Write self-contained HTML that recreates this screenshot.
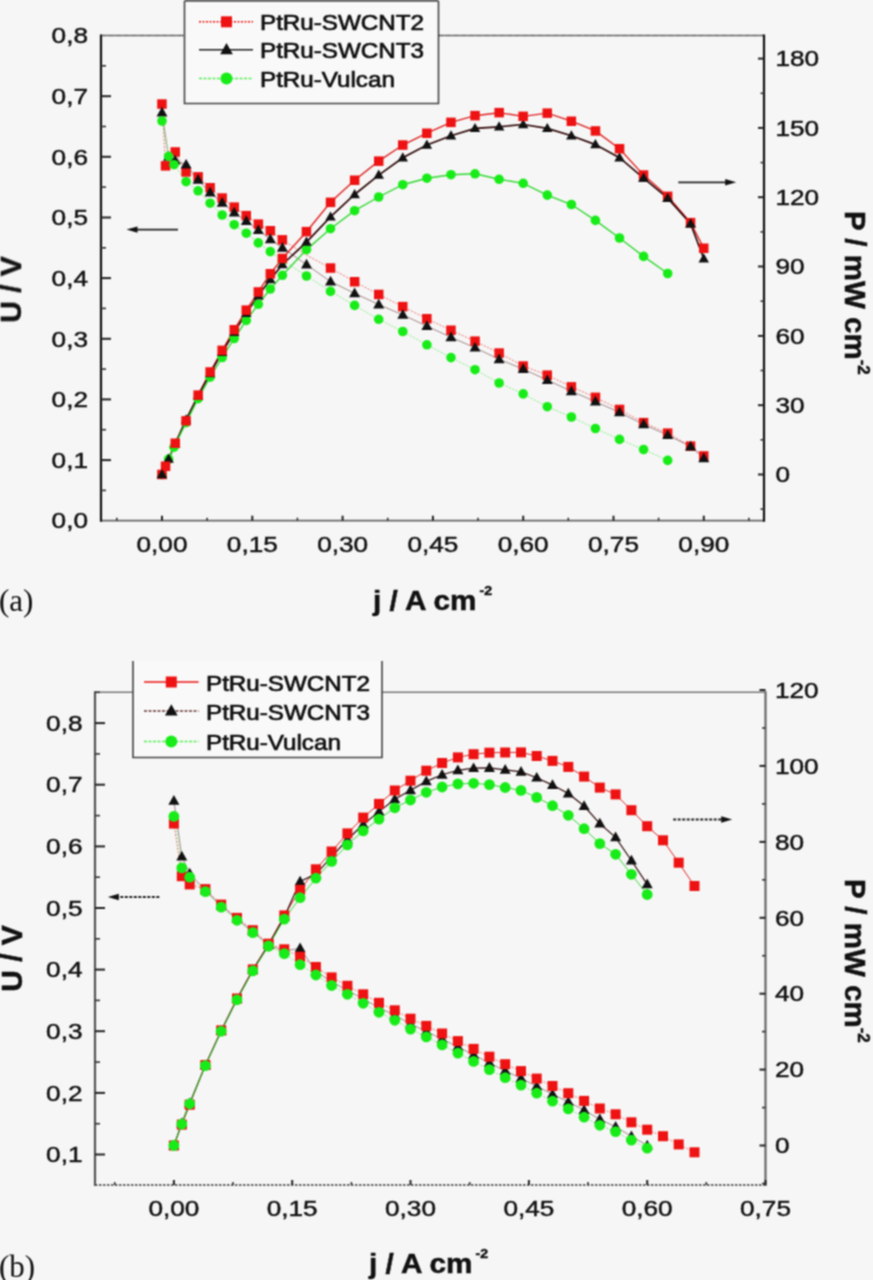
<!DOCTYPE html><html><head><meta charset="utf-8"><title>PtRu fuel cell polarization</title><style>
html,body{margin:0;padding:0;background:#f6f6f6;}body{width:873px;height:1280px;overflow:hidden;position:relative;}
svg{position:absolute;left:0;top:0;display:block;}text{font-family:"Liberation Sans",sans-serif;fill:#111;}
.serif{font-family:"Liberation Serif",serif;}.b{font-weight:bold;stroke:#111;stroke-width:0.5px;}.tl{stroke:#111;stroke-width:0.45px;}.lg{stroke:#111;stroke-width:0.7px;}
</style></head><body>
<svg width="873" height="1280" viewBox="0 0 873 1280">
<defs><filter id="soft" x="0" y="0" width="873" height="1280" filterUnits="userSpaceOnUse" color-interpolation-filters="sRGB"><feConvolveMatrix order="3" kernelMatrix="1 2 1 2 4 2 1 2 1" divisor="16" edgeMode="duplicate"/></filter></defs>
<g filter="url(#soft)">
<rect width="873" height="1280" fill="#f6f6f6"/>
<line x1="101" y1="35.5" x2="764" y2="35.5" stroke="#222" stroke-width="1.6" stroke-dasharray="1.6,0.7"/>
<line x1="101" y1="520.7" x2="764" y2="520.7" stroke="#666" stroke-width="1.8"/>
<line x1="101" y1="34.5" x2="101" y2="521.7" stroke="#111" stroke-width="2.2"/>
<line x1="764" y1="34.5" x2="764" y2="521.7" stroke="#111" stroke-width="2.2"/>
<line x1="101" y1="460.1" x2="111" y2="460.1" stroke="#222" stroke-width="2"/>
<line x1="101" y1="399.4" x2="111" y2="399.4" stroke="#222" stroke-width="2"/>
<line x1="101" y1="338.8" x2="111" y2="338.8" stroke="#222" stroke-width="2"/>
<line x1="101" y1="278.1" x2="111" y2="278.1" stroke="#222" stroke-width="2"/>
<line x1="101" y1="217.5" x2="111" y2="217.5" stroke="#222" stroke-width="2"/>
<line x1="101" y1="156.8" x2="111" y2="156.8" stroke="#222" stroke-width="2"/>
<line x1="101" y1="96.2" x2="111" y2="96.2" stroke="#222" stroke-width="2"/>
<line x1="101" y1="490.4" x2="106" y2="490.4" stroke="#333" stroke-width="1.6"/>
<line x1="101" y1="429.7" x2="106" y2="429.7" stroke="#333" stroke-width="1.6"/>
<line x1="101" y1="369.1" x2="106" y2="369.1" stroke="#333" stroke-width="1.6"/>
<line x1="101" y1="308.4" x2="106" y2="308.4" stroke="#333" stroke-width="1.6"/>
<line x1="101" y1="247.8" x2="106" y2="247.8" stroke="#333" stroke-width="1.6"/>
<line x1="101" y1="187.1" x2="106" y2="187.1" stroke="#333" stroke-width="1.6"/>
<line x1="101" y1="126.5" x2="106" y2="126.5" stroke="#333" stroke-width="1.6"/>
<line x1="101" y1="65.8" x2="106" y2="65.8" stroke="#333" stroke-width="1.6"/>
<line x1="758" y1="474.5" x2="764" y2="474.5" stroke="#222" stroke-width="2"/>
<line x1="758" y1="405.2" x2="764" y2="405.2" stroke="#222" stroke-width="2"/>
<line x1="758" y1="335.9" x2="764" y2="335.9" stroke="#222" stroke-width="2"/>
<line x1="758" y1="266.5" x2="764" y2="266.5" stroke="#222" stroke-width="2"/>
<line x1="758" y1="197.2" x2="764" y2="197.2" stroke="#222" stroke-width="2"/>
<line x1="758" y1="127.9" x2="764" y2="127.9" stroke="#222" stroke-width="2"/>
<line x1="758" y1="58.6" x2="764" y2="58.6" stroke="#222" stroke-width="2"/>
<line x1="760.5" y1="509.1" x2="764" y2="509.1" stroke="#333" stroke-width="1.6"/>
<line x1="760.5" y1="439.8" x2="764" y2="439.8" stroke="#333" stroke-width="1.6"/>
<line x1="760.5" y1="370.5" x2="764" y2="370.5" stroke="#333" stroke-width="1.6"/>
<line x1="760.5" y1="301.2" x2="764" y2="301.2" stroke="#333" stroke-width="1.6"/>
<line x1="760.5" y1="231.9" x2="764" y2="231.9" stroke="#333" stroke-width="1.6"/>
<line x1="760.5" y1="162.6" x2="764" y2="162.6" stroke="#333" stroke-width="1.6"/>
<line x1="760.5" y1="93.3" x2="764" y2="93.3" stroke="#333" stroke-width="1.6"/>
<line x1="162" y1="520.7" x2="162" y2="515.7" stroke="#222" stroke-width="2"/>
<line x1="252.3" y1="520.7" x2="252.3" y2="515.7" stroke="#222" stroke-width="2"/>
<line x1="342.6" y1="520.7" x2="342.6" y2="515.7" stroke="#222" stroke-width="2"/>
<line x1="432.9" y1="520.7" x2="432.9" y2="515.7" stroke="#222" stroke-width="2"/>
<line x1="523.2" y1="520.7" x2="523.2" y2="515.7" stroke="#222" stroke-width="2"/>
<line x1="613.5" y1="520.7" x2="613.5" y2="515.7" stroke="#222" stroke-width="2"/>
<line x1="703.8" y1="520.7" x2="703.8" y2="515.7" stroke="#222" stroke-width="2"/>
<line x1="116.8" y1="520.7" x2="116.8" y2="517.7" stroke="#333" stroke-width="1.6"/>
<line x1="207.1" y1="520.7" x2="207.1" y2="517.7" stroke="#333" stroke-width="1.6"/>
<line x1="297.4" y1="520.7" x2="297.4" y2="517.7" stroke="#333" stroke-width="1.6"/>
<line x1="387.7" y1="520.7" x2="387.7" y2="517.7" stroke="#333" stroke-width="1.6"/>
<line x1="478" y1="520.7" x2="478" y2="517.7" stroke="#333" stroke-width="1.6"/>
<line x1="568.3" y1="520.7" x2="568.3" y2="517.7" stroke="#333" stroke-width="1.6"/>
<line x1="658.6" y1="520.7" x2="658.6" y2="517.7" stroke="#333" stroke-width="1.6"/>
<line x1="748.9" y1="520.7" x2="748.9" y2="517.7" stroke="#333" stroke-width="1.6"/>
<polyline points="162,104 165.6,165.9 175.2,151.9 186.1,172 198.1,176.8 210.1,187.7 222.2,198 234.2,207.1 246.3,215.6 258.3,224.1 270.3,230.8 282.4,239.9 306.5,255.1 330.5,268.1 354.6,281.7 378.7,294.5 402.8,306.6 426.9,318.7 451,330.3 475,341.2 499.1,353 523.2,366 547.3,375.1 571.4,386.8 595.4,397.4 619.5,409.4 643.6,422.6 667.7,433.2 690.6,446.1 703.8,456" fill="none" stroke="#f07070" stroke-width="1.0" stroke-dasharray="2,1.5"/>
<polyline points="162,112.5 168.6,156.8 175.2,160.4 186.1,164.7 198.1,179.8 210.1,192.6 222.2,202.9 234.2,212.6 246.3,221.1 258.3,230.2 270.3,239.3 282.4,247.8 306.5,264.6 330.5,281.6 354.6,293.3 378.7,304.5 402.8,314.9 426.9,326.1 451,337.3 475,347.7 499.1,359.3 523.2,369.1 547.3,380.1 571.4,391.2 595.4,401.6 619.5,412.4 643.6,424.4 667.7,435.2 690.6,446.5 703.8,458.4" fill="none" stroke="#8a6a6a" stroke-width="0.8"/>
<polyline points="162,121 168.6,156.4 174,164.7 186.1,181.7 198.1,190.8 210.1,203.2 222.2,215 234.2,224.7 246.3,233.2 258.3,242.9 270.3,251.6 282.4,260.5 306.5,276 330.5,291.4 354.6,305.4 378.7,319.3 402.8,331.5 426.9,344.8 451,357.6 475,369.7 499.1,383 523.2,393.9 547.3,406.7 571.4,417 595.4,428.5 619.5,439.4 643.6,449.5 667.7,460.4" fill="none" stroke="#80f080" stroke-width="1.0" stroke-dasharray="2,1.5"/>
<polyline points="162,474.5 165.6,466.3 175.2,443.3 186.1,420.8 198.1,395.1 210.1,372 222.2,350.3 234.2,329.7 246.3,310.2 258.3,291.9 270.3,273.7 282.4,258.4 306.5,231.7 330.5,202.3 354.6,180.3 378.7,161.1 402.8,145 426.9,133.2 451,122.4 475,115.7 499.1,112.7 523.2,116.4 547.3,113.1 571.4,121.2 595.4,130.9 619.5,148.7 643.6,175.1 667.7,196.3 690.6,222.6 703.8,248.3" fill="none" stroke="#e02020" stroke-width="1.4"/>
<polyline points="162,474.5 168.6,459.1 175.2,444 186.1,419.7 198.1,395.8 210.1,373.5 222.2,352.2 234.2,332.2 246.3,313.1 258.3,295.6 270.3,279.6 282.4,264.5 306.5,242.1 330.5,216.9 354.6,194.5 378.7,175.1 402.8,157.7 426.9,145 451,135.8 475,128.4 499.1,126.8 523.2,124.5 547.3,128.4 571.4,135.8 595.4,144.6 619.5,157.7 643.6,178.1 667.7,198.2 690.6,223.8 703.8,258.7" fill="none" stroke="#300808" stroke-width="1.7"/>
<polyline points="162,474.5 168.6,459.1 174,447.2 186.1,422.6 198.1,398.7 210.1,377.2 222.2,357.5 234.2,338.5 246.3,320.4 258.3,304.3 270.3,289 282.4,275.3 306.5,249.6 330.5,228.7 354.6,210.7 378.7,197 402.8,184.7 426.9,178.2 451,174.7 475,173.8 499.1,179.3 523.2,183.3 547.3,195.1 571.4,204.5 595.4,220.4 619.5,238 643.6,256.4 667.7,273.5" fill="none" stroke="#30d830" stroke-width="1.4"/>
<rect x="157.2" y="99.3" width="9.5" height="9.5" fill="#ee1212"/>
<rect x="160.8" y="161.1" width="9.5" height="9.5" fill="#ee1212"/>
<rect x="170.5" y="147.2" width="9.5" height="9.5" fill="#ee1212"/>
<rect x="181.3" y="167.2" width="9.5" height="9.5" fill="#ee1212"/>
<rect x="193.4" y="172.1" width="9.5" height="9.5" fill="#ee1212"/>
<rect x="205.4" y="183" width="9.5" height="9.5" fill="#ee1212"/>
<rect x="217.4" y="193.3" width="9.5" height="9.5" fill="#ee1212"/>
<rect x="229.5" y="202.4" width="9.5" height="9.5" fill="#ee1212"/>
<rect x="241.5" y="210.9" width="9.5" height="9.5" fill="#ee1212"/>
<rect x="253.6" y="219.4" width="9.5" height="9.5" fill="#ee1212"/>
<rect x="265.6" y="226" width="9.5" height="9.5" fill="#ee1212"/>
<rect x="277.6" y="235.1" width="9.5" height="9.5" fill="#ee1212"/>
<rect x="325.8" y="263.3" width="9.5" height="9.5" fill="#ee1212"/>
<rect x="349.9" y="277" width="9.5" height="9.5" fill="#ee1212"/>
<rect x="374" y="289.7" width="9.5" height="9.5" fill="#ee1212"/>
<rect x="398" y="301.9" width="9.5" height="9.5" fill="#ee1212"/>
<rect x="422.1" y="314" width="9.5" height="9.5" fill="#ee1212"/>
<rect x="446.2" y="325.5" width="9.5" height="9.5" fill="#ee1212"/>
<rect x="470.3" y="336.4" width="9.5" height="9.5" fill="#ee1212"/>
<rect x="494.4" y="348.3" width="9.5" height="9.5" fill="#ee1212"/>
<rect x="518.4" y="361.3" width="9.5" height="9.5" fill="#ee1212"/>
<rect x="542.5" y="370.4" width="9.5" height="9.5" fill="#ee1212"/>
<rect x="566.6" y="382.1" width="9.5" height="9.5" fill="#ee1212"/>
<rect x="590.7" y="392.6" width="9.5" height="9.5" fill="#ee1212"/>
<rect x="614.8" y="404.7" width="9.5" height="9.5" fill="#ee1212"/>
<rect x="638.8" y="417.9" width="9.5" height="9.5" fill="#ee1212"/>
<rect x="662.9" y="428.4" width="9.5" height="9.5" fill="#ee1212"/>
<rect x="685.8" y="441.4" width="9.5" height="9.5" fill="#ee1212"/>
<rect x="699" y="451.2" width="9.5" height="9.5" fill="#ee1212"/>
<path d="M162 106.8L167.5 116.5L156.5 116.5Z" fill="#111111"/>
<path d="M168.6 151L174.1 160.7L163.1 160.7Z" fill="#111111"/>
<path d="M175.2 154.7L180.7 164.4L169.7 164.4Z" fill="#111111"/>
<path d="M186.1 158.9L191.6 168.6L180.6 168.6Z" fill="#111111"/>
<path d="M198.1 174.1L203.6 183.8L192.6 183.8Z" fill="#111111"/>
<path d="M210.1 186.8L215.7 196.5L204.6 196.5Z" fill="#111111"/>
<path d="M222.2 197.1L227.7 206.8L216.7 206.8Z" fill="#111111"/>
<path d="M234.2 206.8L239.7 216.5L228.7 216.5Z" fill="#111111"/>
<path d="M246.3 215.3L251.8 225L240.8 225Z" fill="#111111"/>
<path d="M258.3 224.4L263.8 234.1L252.8 234.1Z" fill="#111111"/>
<path d="M270.3 233.5L275.9 243.2L264.8 243.2Z" fill="#111111"/>
<path d="M282.4 242L287.9 251.7L276.9 251.7Z" fill="#111111"/>
<path d="M306.5 258.8L312 268.5L301 268.5Z" fill="#111111"/>
<path d="M330.5 275.8L336.1 285.5L325 285.5Z" fill="#111111"/>
<path d="M354.6 287.5L360.1 297.2L349.1 297.2Z" fill="#111111"/>
<path d="M378.7 298.7L384.2 308.5L373.2 308.5Z" fill="#111111"/>
<path d="M402.8 309.1L408.3 318.8L397.3 318.8Z" fill="#111111"/>
<path d="M426.9 320.3L432.4 330L421.4 330Z" fill="#111111"/>
<path d="M451 331.5L456.5 341.2L445.4 341.2Z" fill="#111111"/>
<path d="M475 341.9L480.5 351.6L469.5 351.6Z" fill="#111111"/>
<path d="M499.1 353.5L504.6 363.3L493.6 363.3Z" fill="#111111"/>
<path d="M523.2 363.3L528.7 373L517.7 373Z" fill="#111111"/>
<path d="M547.3 374.4L552.8 384.1L541.8 384.1Z" fill="#111111"/>
<path d="M571.4 385.5L576.9 395.2L565.8 395.2Z" fill="#111111"/>
<path d="M595.4 395.8L600.9 405.5L589.9 405.5Z" fill="#111111"/>
<path d="M619.5 406.6L625 416.3L614 416.3Z" fill="#111111"/>
<path d="M643.6 418.6L649.1 428.3L638.1 428.3Z" fill="#111111"/>
<path d="M667.7 429.4L673.2 439.1L662.2 439.1Z" fill="#111111"/>
<path d="M690.6 440.7L696.1 450.4L685 450.4Z" fill="#111111"/>
<path d="M703.8 452.6L709.3 462.3L698.3 462.3Z" fill="#111111"/>
<circle cx="162" cy="121" r="4.8" fill="#18ec18"/>
<circle cx="168.6" cy="156.4" r="4.8" fill="#18ec18"/>
<circle cx="174" cy="164.7" r="4.8" fill="#18ec18"/>
<circle cx="186.1" cy="181.7" r="4.8" fill="#18ec18"/>
<circle cx="198.1" cy="190.8" r="4.8" fill="#18ec18"/>
<circle cx="210.1" cy="203.2" r="4.8" fill="#18ec18"/>
<circle cx="222.2" cy="215" r="4.8" fill="#18ec18"/>
<circle cx="234.2" cy="224.7" r="4.8" fill="#18ec18"/>
<circle cx="246.3" cy="233.2" r="4.8" fill="#18ec18"/>
<circle cx="258.3" cy="242.9" r="4.8" fill="#18ec18"/>
<circle cx="270.3" cy="251.6" r="4.8" fill="#18ec18"/>
<circle cx="282.4" cy="260.5" r="4.8" fill="#18ec18"/>
<circle cx="306.5" cy="276" r="4.8" fill="#18ec18"/>
<circle cx="330.5" cy="291.4" r="4.8" fill="#18ec18"/>
<circle cx="354.6" cy="305.4" r="4.8" fill="#18ec18"/>
<circle cx="378.7" cy="319.3" r="4.8" fill="#18ec18"/>
<circle cx="402.8" cy="331.5" r="4.8" fill="#18ec18"/>
<circle cx="426.9" cy="344.8" r="4.8" fill="#18ec18"/>
<circle cx="451" cy="357.6" r="4.8" fill="#18ec18"/>
<circle cx="475" cy="369.7" r="4.8" fill="#18ec18"/>
<circle cx="499.1" cy="383" r="4.8" fill="#18ec18"/>
<circle cx="523.2" cy="393.9" r="4.8" fill="#18ec18"/>
<circle cx="547.3" cy="406.7" r="4.8" fill="#18ec18"/>
<circle cx="571.4" cy="417" r="4.8" fill="#18ec18"/>
<circle cx="595.4" cy="428.5" r="4.8" fill="#18ec18"/>
<circle cx="619.5" cy="439.4" r="4.8" fill="#18ec18"/>
<circle cx="643.6" cy="449.5" r="4.8" fill="#18ec18"/>
<circle cx="667.7" cy="460.4" r="4.8" fill="#18ec18"/>
<circle cx="162" cy="474.5" r="4.8" fill="#18ec18"/>
<circle cx="168.6" cy="459.1" r="4.8" fill="#18ec18"/>
<circle cx="174" cy="447.2" r="4.8" fill="#18ec18"/>
<circle cx="186.1" cy="422.6" r="4.8" fill="#18ec18"/>
<circle cx="198.1" cy="398.7" r="4.8" fill="#18ec18"/>
<circle cx="210.1" cy="377.2" r="4.8" fill="#18ec18"/>
<circle cx="222.2" cy="357.5" r="4.8" fill="#18ec18"/>
<circle cx="234.2" cy="338.5" r="4.8" fill="#18ec18"/>
<circle cx="246.3" cy="320.4" r="4.8" fill="#18ec18"/>
<circle cx="258.3" cy="304.3" r="4.8" fill="#18ec18"/>
<circle cx="270.3" cy="289" r="4.8" fill="#18ec18"/>
<circle cx="282.4" cy="275.3" r="4.8" fill="#18ec18"/>
<circle cx="306.5" cy="249.6" r="4.8" fill="#18ec18"/>
<circle cx="330.5" cy="228.7" r="4.8" fill="#18ec18"/>
<circle cx="354.6" cy="210.7" r="4.8" fill="#18ec18"/>
<circle cx="378.7" cy="197" r="4.8" fill="#18ec18"/>
<circle cx="402.8" cy="184.7" r="4.8" fill="#18ec18"/>
<circle cx="426.9" cy="178.2" r="4.8" fill="#18ec18"/>
<circle cx="451" cy="174.7" r="4.8" fill="#18ec18"/>
<circle cx="475" cy="173.8" r="4.8" fill="#18ec18"/>
<circle cx="499.1" cy="179.3" r="4.8" fill="#18ec18"/>
<circle cx="523.2" cy="183.3" r="4.8" fill="#18ec18"/>
<circle cx="547.3" cy="195.1" r="4.8" fill="#18ec18"/>
<circle cx="571.4" cy="204.5" r="4.8" fill="#18ec18"/>
<circle cx="595.4" cy="220.4" r="4.8" fill="#18ec18"/>
<circle cx="619.5" cy="238" r="4.8" fill="#18ec18"/>
<circle cx="643.6" cy="256.4" r="4.8" fill="#18ec18"/>
<circle cx="667.7" cy="273.5" r="4.8" fill="#18ec18"/>
<path d="M162 469L167.2 478.2L156.7 478.2Z" fill="#111111"/>
<path d="M168.6 453.6L173.9 462.8L163.4 462.8Z" fill="#111111"/>
<path d="M175.2 438.5L180.5 447.7L170 447.7Z" fill="#111111"/>
<path d="M186.1 414.2L191.3 423.4L180.8 423.4Z" fill="#111111"/>
<path d="M198.1 390.3L203.4 399.6L192.9 399.6Z" fill="#111111"/>
<path d="M210.1 368L215.4 377.2L204.9 377.2Z" fill="#111111"/>
<path d="M222.2 346.7L227.4 356L216.9 356Z" fill="#111111"/>
<path d="M234.2 326.7L239.5 336L229 336Z" fill="#111111"/>
<path d="M246.3 307.6L251.5 316.9L241 316.9Z" fill="#111111"/>
<path d="M258.3 290.1L263.6 299.4L253.1 299.4Z" fill="#111111"/>
<path d="M270.3 274.1L275.6 283.3L265.1 283.3Z" fill="#111111"/>
<path d="M282.4 259L287.6 268.2L277.1 268.2Z" fill="#111111"/>
<path d="M306.5 236.6L311.7 245.8L301.2 245.8Z" fill="#111111"/>
<path d="M330.5 211.4L335.8 220.6L325.3 220.6Z" fill="#111111"/>
<path d="M354.6 189L359.9 198.2L349.4 198.2Z" fill="#111111"/>
<path d="M378.7 169.6L384 178.8L373.5 178.8Z" fill="#111111"/>
<path d="M402.8 152.2L408 161.5L397.5 161.5Z" fill="#111111"/>
<path d="M426.9 139.5L432.1 148.8L421.6 148.8Z" fill="#111111"/>
<path d="M451 130.3L456.2 139.5L445.7 139.5Z" fill="#111111"/>
<path d="M475 122.9L480.3 132.1L469.8 132.1Z" fill="#111111"/>
<path d="M499.1 121.3L504.4 130.5L493.9 130.5Z" fill="#111111"/>
<path d="M523.2 119L528.4 128.2L517.9 128.2Z" fill="#111111"/>
<path d="M547.3 122.9L552.5 132.1L542 132.1Z" fill="#111111"/>
<path d="M571.4 130.3L576.6 139.5L566.1 139.5Z" fill="#111111"/>
<path d="M595.4 139.1L600.7 148.3L590.2 148.3Z" fill="#111111"/>
<path d="M619.5 152.2L624.8 161.5L614.3 161.5Z" fill="#111111"/>
<path d="M643.6 172.6L648.8 181.8L638.3 181.8Z" fill="#111111"/>
<path d="M667.7 192.7L672.9 201.9L662.4 201.9Z" fill="#111111"/>
<path d="M690.6 218.3L695.8 227.6L685.3 227.6Z" fill="#111111"/>
<path d="M703.8 253.2L709 262.4L698.5 262.4Z" fill="#111111"/>
<rect x="157.2" y="469.7" width="9.5" height="9.5" fill="#ee1212"/>
<rect x="160.8" y="461.5" width="9.5" height="9.5" fill="#ee1212"/>
<rect x="170.5" y="438.5" width="9.5" height="9.5" fill="#ee1212"/>
<rect x="181.3" y="416.1" width="9.5" height="9.5" fill="#ee1212"/>
<rect x="193.4" y="390.4" width="9.5" height="9.5" fill="#ee1212"/>
<rect x="205.4" y="367.2" width="9.5" height="9.5" fill="#ee1212"/>
<rect x="217.4" y="345.6" width="9.5" height="9.5" fill="#ee1212"/>
<rect x="229.5" y="325" width="9.5" height="9.5" fill="#ee1212"/>
<rect x="241.5" y="305.4" width="9.5" height="9.5" fill="#ee1212"/>
<rect x="253.6" y="287.2" width="9.5" height="9.5" fill="#ee1212"/>
<rect x="265.6" y="269" width="9.5" height="9.5" fill="#ee1212"/>
<rect x="277.6" y="253.7" width="9.5" height="9.5" fill="#ee1212"/>
<rect x="301.7" y="226.9" width="9.5" height="9.5" fill="#ee1212"/>
<rect x="325.8" y="197.6" width="9.5" height="9.5" fill="#ee1212"/>
<rect x="349.9" y="175.5" width="9.5" height="9.5" fill="#ee1212"/>
<rect x="374" y="156.4" width="9.5" height="9.5" fill="#ee1212"/>
<rect x="398" y="140.3" width="9.5" height="9.5" fill="#ee1212"/>
<rect x="422.1" y="128.5" width="9.5" height="9.5" fill="#ee1212"/>
<rect x="446.2" y="117.6" width="9.5" height="9.5" fill="#ee1212"/>
<rect x="470.3" y="110.9" width="9.5" height="9.5" fill="#ee1212"/>
<rect x="494.4" y="107.9" width="9.5" height="9.5" fill="#ee1212"/>
<rect x="518.4" y="111.6" width="9.5" height="9.5" fill="#ee1212"/>
<rect x="542.5" y="108.4" width="9.5" height="9.5" fill="#ee1212"/>
<rect x="566.6" y="116.5" width="9.5" height="9.5" fill="#ee1212"/>
<rect x="590.7" y="126.2" width="9.5" height="9.5" fill="#ee1212"/>
<rect x="614.8" y="144" width="9.5" height="9.5" fill="#ee1212"/>
<rect x="638.8" y="170.3" width="9.5" height="9.5" fill="#ee1212"/>
<rect x="662.9" y="191.6" width="9.5" height="9.5" fill="#ee1212"/>
<rect x="685.8" y="217.9" width="9.5" height="9.5" fill="#ee1212"/>
<rect x="699" y="243.5" width="9.5" height="9.5" fill="#ee1212"/>
<path d="M162 469L167.2 478.2L156.7 478.2Z" fill="#111111"/>
<path d="M643.6 172.6L648.8 181.8L638.3 181.8Z" fill="#111111"/>
<path d="M667.7 192.7L672.9 201.9L662.4 201.9Z" fill="#111111"/>
<path d="M690.6 218.3L695.8 227.6L685.3 227.6Z" fill="#111111"/>
<text class="tl" transform="translate(88,520.7) scale(1.19,1)" font-size="22" text-anchor="end" dominant-baseline="central">0,0</text>
<text class="tl" transform="translate(88,460.1) scale(1.19,1)" font-size="22" text-anchor="end" dominant-baseline="central">0,1</text>
<text class="tl" transform="translate(88,399.4) scale(1.19,1)" font-size="22" text-anchor="end" dominant-baseline="central">0,2</text>
<text class="tl" transform="translate(88,338.8) scale(1.19,1)" font-size="22" text-anchor="end" dominant-baseline="central">0,3</text>
<text class="tl" transform="translate(88,278.1) scale(1.19,1)" font-size="22" text-anchor="end" dominant-baseline="central">0,4</text>
<text class="tl" transform="translate(88,217.5) scale(1.19,1)" font-size="22" text-anchor="end" dominant-baseline="central">0,5</text>
<text class="tl" transform="translate(88,156.8) scale(1.19,1)" font-size="22" text-anchor="end" dominant-baseline="central">0,6</text>
<text class="tl" transform="translate(88,96.2) scale(1.19,1)" font-size="22" text-anchor="end" dominant-baseline="central">0,7</text>
<text class="tl" transform="translate(88,35.5) scale(1.19,1)" font-size="22" text-anchor="end" dominant-baseline="central">0,8</text>
<text class="tl" transform="translate(162,544) scale(1.19,1)" font-size="22" text-anchor="middle" dominant-baseline="central">0,00</text>
<text class="tl" transform="translate(252.3,544) scale(1.19,1)" font-size="22" text-anchor="middle" dominant-baseline="central">0,15</text>
<text class="tl" transform="translate(342.6,544) scale(1.19,1)" font-size="22" text-anchor="middle" dominant-baseline="central">0,30</text>
<text class="tl" transform="translate(432.9,544) scale(1.19,1)" font-size="22" text-anchor="middle" dominant-baseline="central">0,45</text>
<text class="tl" transform="translate(523.2,544) scale(1.19,1)" font-size="22" text-anchor="middle" dominant-baseline="central">0,60</text>
<text class="tl" transform="translate(613.5,544) scale(1.19,1)" font-size="22" text-anchor="middle" dominant-baseline="central">0,75</text>
<text class="tl" transform="translate(703.8,544) scale(1.19,1)" font-size="22" text-anchor="middle" dominant-baseline="central">0,90</text>
<text class="tl" transform="translate(775.5,474.5) scale(1.19,1)" font-size="22" text-anchor="start" dominant-baseline="central">0</text>
<text class="tl" transform="translate(775.5,405.2) scale(1.19,1)" font-size="22" text-anchor="start" dominant-baseline="central">30</text>
<text class="tl" transform="translate(775.5,335.9) scale(1.19,1)" font-size="22" text-anchor="start" dominant-baseline="central">60</text>
<text class="tl" transform="translate(775.5,266.5) scale(1.19,1)" font-size="22" text-anchor="start" dominant-baseline="central">90</text>
<text class="tl" transform="translate(775.5,197.2) scale(1.19,1)" font-size="22" text-anchor="start" dominant-baseline="central">120</text>
<text class="tl" transform="translate(775.5,127.9) scale(1.19,1)" font-size="22" text-anchor="start" dominant-baseline="central">150</text>
<text class="tl" transform="translate(775.5,58.6) scale(1.19,1)" font-size="22" text-anchor="start" dominant-baseline="central">180</text>
<rect x="184.5" y="1" width="254.0" height="102.5" fill="#f9f9f9" stroke="none"/>
<path d="M184.5 1 V103.5 H438.5 V1" fill="none" stroke="#444" stroke-width="1.6"/>
<line x1="184.5" y1="1" x2="438.5" y2="1" stroke="#444" stroke-width="1.6"/>
<line x1="199" y1="21.8" x2="253" y2="21.8" stroke="#ee1212" stroke-width="1.5" stroke-dasharray="2,1.5"/>
<rect x="221.0" y="16.3" width="11" height="11" fill="#ee1212"/>
<text class="lg" transform="translate(260,22.8) scale(1.1,1)" font-size="22" text-anchor="start" dominant-baseline="central">PtRu-SWCNT2</text>
<line x1="199" y1="49.7" x2="253" y2="49.7" stroke="#222" stroke-width="1.5"/>
<path d="M226.5 43.045L232.8525 54.237500000000004L220.1475 54.237500000000004Z" fill="#111111"/>
<text class="lg" transform="translate(260,50.7) scale(1.1,1)" font-size="22" text-anchor="start" dominant-baseline="central">PtRu-SWCNT3</text>
<line x1="199" y1="78.6" x2="253" y2="78.6" stroke="#55ee55" stroke-width="1.5" stroke-dasharray="3,1.5"/>
<circle cx="226.5" cy="78.6" r="6.0" fill="#18ec18"/>
<text class="lg" transform="translate(260,79.6) scale(1.1,1)" font-size="22" text-anchor="start" dominant-baseline="central">PtRu-Vulcan</text>
<line x1="134.5" y1="229.6" x2="178" y2="229.6" stroke="#222" stroke-width="1.8"/>
<path d="M126.5 229.6L137.5 226.4L137.5 232.79999999999998Z" fill="#111"/>
<line x1="678.3" y1="182.3" x2="728.2" y2="182.3" stroke="#222" stroke-width="1.8"/>
<path d="M736.2 182.3L725.2 179.10000000000002L725.2 185.5Z" fill="#111"/>
<line x1="95" y1="692.3" x2="765.5" y2="692.3" stroke="#777" stroke-width="1.6"/>
<line x1="95" y1="1185" x2="765.5" y2="1185" stroke="#666" stroke-width="1.8" stroke-dasharray="2.5,1.5"/>
<line x1="95" y1="691.3" x2="95" y2="1186" stroke="#555" stroke-width="2.2"/>
<line x1="765.5" y1="691.3" x2="765.5" y2="1186" stroke="#666" stroke-width="2.2"/>
<line x1="95" y1="1154.5" x2="105" y2="1154.5" stroke="#222" stroke-width="2"/>
<line x1="95" y1="1092.9" x2="105" y2="1092.9" stroke="#222" stroke-width="2"/>
<line x1="95" y1="1031.2" x2="105" y2="1031.2" stroke="#222" stroke-width="2"/>
<line x1="95" y1="969.6" x2="105" y2="969.6" stroke="#222" stroke-width="2"/>
<line x1="95" y1="908" x2="105" y2="908" stroke="#222" stroke-width="2"/>
<line x1="95" y1="846.4" x2="105" y2="846.4" stroke="#222" stroke-width="2"/>
<line x1="95" y1="784.7" x2="105" y2="784.7" stroke="#222" stroke-width="2"/>
<line x1="95" y1="723.1" x2="105" y2="723.1" stroke="#222" stroke-width="2"/>
<line x1="95" y1="1123.7" x2="100" y2="1123.7" stroke="#333" stroke-width="1.6"/>
<line x1="95" y1="1062.1" x2="100" y2="1062.1" stroke="#333" stroke-width="1.6"/>
<line x1="95" y1="1000.4" x2="100" y2="1000.4" stroke="#333" stroke-width="1.6"/>
<line x1="95" y1="938.8" x2="100" y2="938.8" stroke="#333" stroke-width="1.6"/>
<line x1="95" y1="877.2" x2="100" y2="877.2" stroke="#333" stroke-width="1.6"/>
<line x1="95" y1="815.6" x2="100" y2="815.6" stroke="#333" stroke-width="1.6"/>
<line x1="95" y1="753.9" x2="100" y2="753.9" stroke="#333" stroke-width="1.6"/>
<line x1="95" y1="692.3" x2="100" y2="692.3" stroke="#333" stroke-width="1.6"/>
<line x1="759.5" y1="1145.5" x2="765.5" y2="1145.5" stroke="#222" stroke-width="2"/>
<line x1="759.5" y1="1069.6" x2="765.5" y2="1069.6" stroke="#222" stroke-width="2"/>
<line x1="759.5" y1="993.7" x2="765.5" y2="993.7" stroke="#222" stroke-width="2"/>
<line x1="759.5" y1="917.8" x2="765.5" y2="917.8" stroke="#222" stroke-width="2"/>
<line x1="759.5" y1="841.9" x2="765.5" y2="841.9" stroke="#222" stroke-width="2"/>
<line x1="759.5" y1="765.9" x2="765.5" y2="765.9" stroke="#222" stroke-width="2"/>
<line x1="759.5" y1="690" x2="765.5" y2="690" stroke="#222" stroke-width="2"/>
<line x1="762" y1="1107.6" x2="765.5" y2="1107.6" stroke="#333" stroke-width="1.6"/>
<line x1="762" y1="1031.6" x2="765.5" y2="1031.6" stroke="#333" stroke-width="1.6"/>
<line x1="762" y1="955.7" x2="765.5" y2="955.7" stroke="#333" stroke-width="1.6"/>
<line x1="762" y1="879.8" x2="765.5" y2="879.8" stroke="#333" stroke-width="1.6"/>
<line x1="762" y1="803.9" x2="765.5" y2="803.9" stroke="#333" stroke-width="1.6"/>
<line x1="762" y1="728" x2="765.5" y2="728" stroke="#333" stroke-width="1.6"/>
<line x1="762" y1="1183.5" x2="765.5" y2="1183.5" stroke="#333" stroke-width="1.6"/>
<line x1="173.9" y1="1185" x2="173.9" y2="1180" stroke="#222" stroke-width="2"/>
<line x1="292.2" y1="1185" x2="292.2" y2="1180" stroke="#222" stroke-width="2"/>
<line x1="410.5" y1="1185" x2="410.5" y2="1180" stroke="#222" stroke-width="2"/>
<line x1="528.9" y1="1185" x2="528.9" y2="1180" stroke="#222" stroke-width="2"/>
<line x1="647.2" y1="1185" x2="647.2" y2="1180" stroke="#222" stroke-width="2"/>
<line x1="765.5" y1="1185" x2="765.5" y2="1180" stroke="#222" stroke-width="2"/>
<line x1="114.7" y1="1185" x2="114.7" y2="1182" stroke="#333" stroke-width="1.6"/>
<line x1="233" y1="1185" x2="233" y2="1182" stroke="#333" stroke-width="1.6"/>
<line x1="351.4" y1="1185" x2="351.4" y2="1182" stroke="#333" stroke-width="1.6"/>
<line x1="469.7" y1="1185" x2="469.7" y2="1182" stroke="#333" stroke-width="1.6"/>
<line x1="588" y1="1185" x2="588" y2="1182" stroke="#333" stroke-width="1.6"/>
<line x1="706.3" y1="1185" x2="706.3" y2="1182" stroke="#333" stroke-width="1.6"/>
<polyline points="173.9,823.6 181.8,876.2 189.7,884.4 205.4,889.1 221.2,904.6 237,917.9 252.8,930.2 268.5,943.7 284.3,949.3 300.1,956.7 315.9,967 331.6,977.4 347.4,985.8 363.2,994.3 379,1002.8 394.8,1010.3 410.5,1018.7 426.3,1025.9 442.1,1033.5 457.9,1041.1 473.6,1048.9 489.4,1056.7 505.2,1064.2 521,1071.1 536.7,1078.6 552.5,1086 568.3,1093.2 584.1,1100.9 599.8,1108.5 615.6,1114.3 631.4,1122.3 647.2,1129.7 663,1136.2 678.7,1144.4 694.5,1152.3" fill="none" stroke="#f07070" stroke-width="1.0" stroke-dasharray="2,1.5"/>
<polyline points="173.9,800.9 181.8,856.6 189.7,873.5 205.4,890.4 221.2,905.8 237,919.1 252.8,931.4 268.5,945 284.3,951.1 300.1,948.2 315.9,971.3 331.6,981.8 347.4,990.3 363.2,999 379,1007.6 394.8,1015.3 410.5,1023.9 426.3,1031.4 442.1,1039.1 457.9,1046.9 473.6,1054.9 489.4,1062.9 505.2,1070.9 521,1078.2 536.7,1086.3 552.5,1094.2 568.3,1101.9 584.1,1110.1 599.8,1119.3 615.6,1126.8 631.4,1136.3 647.2,1145.4" fill="none" stroke="#8a6a6a" stroke-width="0.8"/>
<polyline points="173.9,816.4 181.8,867.9 189.7,877.2 205.4,891.6 221.2,907.1 237,920.3 252.8,932.6 268.5,946.2 284.3,953.6 300.1,964.7 315.9,975 331.6,985.5 347.4,994.3 363.2,1003.3 379,1012.3 394.8,1020.3 410.5,1029.1 426.3,1036.9 442.1,1044.9 457.9,1053.1 473.6,1061.4 489.4,1069.6 505.2,1077.7 521,1085.1 536.7,1093.2 552.5,1101.2 568.3,1108.9 584.1,1117.2 599.8,1125.3 615.6,1131.7 631.4,1140.2 647.2,1148.2" fill="none" stroke="#80f080" stroke-width="1.0" stroke-dasharray="2,1.5"/>
<polyline points="173.9,1145.5 181.8,1124.6 189.7,1104.7 205.4,1065 221.2,1030.4 237,998.5 252.8,969.4 268.5,944.2 284.3,915.4 300.1,889.8 315.9,869.3 331.6,851.5 347.4,833.4 363.2,817.6 379,803.9 394.8,790.5 410.5,780.7 426.3,770.7 442.1,763 457.9,757.4 473.6,754.2 489.4,752.7 505.2,752.5 521,752.4 536.7,756 552.5,760.9 568.3,766.9 584.1,776.6 599.8,787.6 615.6,794.4 631.4,810.2 647.2,826.2 663,840.3 678.7,862.7 694.5,886" fill="none" stroke="#e02020" stroke-width="0.9799999999999999"/>
<polyline points="173.9,1145.5 181.8,1123.4 189.7,1103.3 205.4,1065.3 221.2,1030.9 237,999.2 252.8,970.2 268.5,945.1 284.3,917 300.1,881.5 315.9,874.1 331.6,856.8 347.4,839.5 363.2,824.5 379,811.6 394.8,799.3 410.5,790.3 426.3,781.4 442.1,774.7 457.9,770.3 473.6,768.2 489.4,767.9 505.2,769.8 521,771.8 536.7,777.7 552.5,785.1 568.3,793.6 584.1,806 599.8,823.6 615.6,837.3 631.4,860.5 647.2,884.3" fill="none" stroke="#300808" stroke-width="1.19"/>
<polyline points="173.9,1145.5 181.8,1124.1 189.7,1103.8 205.4,1065.6 221.2,1031.3 237,999.8 252.8,970.9 268.5,946 284.3,919.1 300.1,897.7 315.9,878.2 331.6,861.4 347.4,844.9 363.2,830.9 379,819.1 394.8,807.8 410.5,800 426.3,792.3 442.1,787 457.9,783.9 473.6,783.3 489.4,784.6 505.2,787.5 521,790.4 536.7,797.4 552.5,805.7 568.3,815.3 584.1,828.7 599.8,843.6 615.6,854.3 631.4,874.3 647.2,894.5" fill="none" stroke="#30d830" stroke-width="0.9799999999999999"/>
<path d="M173.9 795.1L179.4 804.8L168.4 804.8Z" fill="#111111"/>
<path d="M181.8 850.8L187.3 860.5L176.3 860.5Z" fill="#111111"/>
<path d="M189.7 867.7L195.2 877.4L184.1 877.4Z" fill="#111111"/>
<path d="M205.4 884.6L210.9 894.3L199.9 894.3Z" fill="#111111"/>
<path d="M221.2 900.1L226.7 909.8L215.7 909.8Z" fill="#111111"/>
<path d="M237 913.3L242.5 923L231.5 923Z" fill="#111111"/>
<path d="M252.8 925.6L258.3 935.3L247.3 935.3Z" fill="#111111"/>
<path d="M268.5 939.2L274.1 948.9L263 948.9Z" fill="#111111"/>
<path d="M284.3 945.4L289.8 955.1L278.8 955.1Z" fill="#111111"/>
<path d="M300.1 942.5L305.6 952.2L294.6 952.2Z" fill="#111111"/>
<path d="M315.9 965.5L321.4 975.2L310.4 975.2Z" fill="#111111"/>
<path d="M331.6 976L337.2 985.7L326.1 985.7Z" fill="#111111"/>
<path d="M347.4 984.5L352.9 994.2L341.9 994.2Z" fill="#111111"/>
<path d="M363.2 993.2L368.7 1002.9L357.7 1002.9Z" fill="#111111"/>
<path d="M379 1001.9L384.5 1011.6L373.5 1011.6Z" fill="#111111"/>
<path d="M394.8 1009.6L400.3 1019.3L389.2 1019.3Z" fill="#111111"/>
<path d="M410.5 1018.1L416 1027.8L405 1027.8Z" fill="#111111"/>
<path d="M426.3 1025.6L431.8 1035.3L420.8 1035.3Z" fill="#111111"/>
<path d="M442.1 1033.3L447.6 1043L436.6 1043Z" fill="#111111"/>
<path d="M457.9 1041.1L463.4 1050.8L452.3 1050.8Z" fill="#111111"/>
<path d="M473.6 1049.1L479.1 1058.8L468.1 1058.8Z" fill="#111111"/>
<path d="M489.4 1057.1L494.9 1066.8L483.9 1066.8Z" fill="#111111"/>
<path d="M505.2 1065.1L510.7 1074.8L499.7 1074.8Z" fill="#111111"/>
<path d="M521 1072.4L526.5 1082.2L515.5 1082.2Z" fill="#111111"/>
<path d="M536.7 1080.5L542.3 1090.2L531.2 1090.2Z" fill="#111111"/>
<path d="M552.5 1088.4L558 1098.1L547 1098.1Z" fill="#111111"/>
<path d="M568.3 1096.1L573.8 1105.8L562.8 1105.8Z" fill="#111111"/>
<path d="M584.1 1104.3L589.6 1114.1L578.6 1114.1Z" fill="#111111"/>
<path d="M599.8 1113.6L605.4 1123.3L594.3 1123.3Z" fill="#111111"/>
<path d="M615.6 1121L621.1 1130.7L610.1 1130.7Z" fill="#111111"/>
<path d="M631.4 1130.6L636.9 1140.3L625.9 1140.3Z" fill="#111111"/>
<path d="M647.2 1139.7L652.7 1149.4L641.7 1149.4Z" fill="#111111"/>
<rect x="168.9" y="818.6" width="10" height="10" fill="#ee1212"/>
<rect x="176.8" y="871.2" width="10" height="10" fill="#ee1212"/>
<rect x="184.7" y="879.4" width="10" height="10" fill="#ee1212"/>
<rect x="200.4" y="884.1" width="10" height="10" fill="#ee1212"/>
<rect x="216.2" y="899.6" width="10" height="10" fill="#ee1212"/>
<rect x="232" y="912.9" width="10" height="10" fill="#ee1212"/>
<rect x="247.8" y="925.2" width="10" height="10" fill="#ee1212"/>
<rect x="263.5" y="938.7" width="10" height="10" fill="#ee1212"/>
<rect x="279.3" y="944.3" width="10" height="10" fill="#ee1212"/>
<rect x="295.1" y="951.7" width="10" height="10" fill="#ee1212"/>
<rect x="310.9" y="962" width="10" height="10" fill="#ee1212"/>
<rect x="326.6" y="972.4" width="10" height="10" fill="#ee1212"/>
<rect x="342.4" y="980.8" width="10" height="10" fill="#ee1212"/>
<rect x="358.2" y="989.3" width="10" height="10" fill="#ee1212"/>
<rect x="374" y="997.8" width="10" height="10" fill="#ee1212"/>
<rect x="389.8" y="1005.3" width="10" height="10" fill="#ee1212"/>
<rect x="405.5" y="1013.7" width="10" height="10" fill="#ee1212"/>
<rect x="421.3" y="1020.9" width="10" height="10" fill="#ee1212"/>
<rect x="437.1" y="1028.5" width="10" height="10" fill="#ee1212"/>
<rect x="452.9" y="1036.1" width="10" height="10" fill="#ee1212"/>
<rect x="468.6" y="1043.9" width="10" height="10" fill="#ee1212"/>
<rect x="484.4" y="1051.7" width="10" height="10" fill="#ee1212"/>
<rect x="500.2" y="1059.2" width="10" height="10" fill="#ee1212"/>
<rect x="516" y="1066.1" width="10" height="10" fill="#ee1212"/>
<rect x="531.7" y="1073.6" width="10" height="10" fill="#ee1212"/>
<rect x="547.5" y="1081" width="10" height="10" fill="#ee1212"/>
<rect x="563.3" y="1088.2" width="10" height="10" fill="#ee1212"/>
<rect x="579.1" y="1095.9" width="10" height="10" fill="#ee1212"/>
<rect x="594.8" y="1103.5" width="10" height="10" fill="#ee1212"/>
<rect x="610.6" y="1109.3" width="10" height="10" fill="#ee1212"/>
<rect x="626.4" y="1117.3" width="10" height="10" fill="#ee1212"/>
<rect x="642.2" y="1124.7" width="10" height="10" fill="#ee1212"/>
<rect x="658" y="1131.2" width="10" height="10" fill="#ee1212"/>
<rect x="673.7" y="1139.4" width="10" height="10" fill="#ee1212"/>
<rect x="689.5" y="1147.3" width="10" height="10" fill="#ee1212"/>
<circle cx="173.9" cy="816.4" r="5.4" fill="#18ec18"/>
<circle cx="181.8" cy="867.9" r="5.4" fill="#18ec18"/>
<circle cx="189.7" cy="877.2" r="5.4" fill="#18ec18"/>
<circle cx="205.4" cy="891.6" r="5.4" fill="#18ec18"/>
<circle cx="221.2" cy="907.1" r="5.4" fill="#18ec18"/>
<circle cx="237" cy="920.3" r="5.4" fill="#18ec18"/>
<circle cx="252.8" cy="932.6" r="5.4" fill="#18ec18"/>
<circle cx="268.5" cy="946.2" r="5.4" fill="#18ec18"/>
<circle cx="284.3" cy="953.6" r="5.4" fill="#18ec18"/>
<circle cx="300.1" cy="964.7" r="5.4" fill="#18ec18"/>
<circle cx="315.9" cy="975" r="5.4" fill="#18ec18"/>
<circle cx="331.6" cy="985.5" r="5.4" fill="#18ec18"/>
<circle cx="347.4" cy="994.3" r="5.4" fill="#18ec18"/>
<circle cx="363.2" cy="1003.3" r="5.4" fill="#18ec18"/>
<circle cx="379" cy="1012.3" r="5.4" fill="#18ec18"/>
<circle cx="394.8" cy="1020.3" r="5.4" fill="#18ec18"/>
<circle cx="410.5" cy="1029.1" r="5.4" fill="#18ec18"/>
<circle cx="426.3" cy="1036.9" r="5.4" fill="#18ec18"/>
<circle cx="442.1" cy="1044.9" r="5.4" fill="#18ec18"/>
<circle cx="457.9" cy="1053.1" r="5.4" fill="#18ec18"/>
<circle cx="473.6" cy="1061.4" r="5.4" fill="#18ec18"/>
<circle cx="489.4" cy="1069.6" r="5.4" fill="#18ec18"/>
<circle cx="505.2" cy="1077.7" r="5.4" fill="#18ec18"/>
<circle cx="521" cy="1085.1" r="5.4" fill="#18ec18"/>
<circle cx="536.7" cy="1093.2" r="5.4" fill="#18ec18"/>
<circle cx="552.5" cy="1101.2" r="5.4" fill="#18ec18"/>
<circle cx="568.3" cy="1108.9" r="5.4" fill="#18ec18"/>
<circle cx="584.1" cy="1117.2" r="5.4" fill="#18ec18"/>
<circle cx="599.8" cy="1125.3" r="5.4" fill="#18ec18"/>
<circle cx="615.6" cy="1131.7" r="5.4" fill="#18ec18"/>
<circle cx="631.4" cy="1140.2" r="5.4" fill="#18ec18"/>
<circle cx="647.2" cy="1148.2" r="5.4" fill="#18ec18"/>
<path d="M173.9 1139.7L179.4 1149.5L168.4 1149.5Z" fill="#111111"/>
<path d="M181.8 1117.6L187.3 1127.3L176.3 1127.3Z" fill="#111111"/>
<path d="M189.7 1097.5L195.2 1107.3L184.1 1107.3Z" fill="#111111"/>
<path d="M205.4 1059.5L210.9 1069.2L199.9 1069.2Z" fill="#111111"/>
<path d="M221.2 1025.1L226.7 1034.8L215.7 1034.8Z" fill="#111111"/>
<path d="M237 993.4L242.5 1003.1L231.5 1003.1Z" fill="#111111"/>
<path d="M252.8 964.4L258.3 974.1L247.3 974.1Z" fill="#111111"/>
<path d="M268.5 939.3L274.1 949L263 949Z" fill="#111111"/>
<path d="M284.3 911.2L289.8 921L278.8 921Z" fill="#111111"/>
<path d="M300.1 875.7L305.6 885.5L294.6 885.5Z" fill="#111111"/>
<path d="M315.9 868.3L321.4 878L310.4 878Z" fill="#111111"/>
<path d="M331.6 851L337.2 860.7L326.1 860.7Z" fill="#111111"/>
<path d="M347.4 833.7L352.9 843.4L341.9 843.4Z" fill="#111111"/>
<path d="M363.2 818.7L368.7 828.4L357.7 828.4Z" fill="#111111"/>
<path d="M379 805.9L384.5 815.6L373.5 815.6Z" fill="#111111"/>
<path d="M394.8 793.5L400.3 803.2L389.2 803.2Z" fill="#111111"/>
<path d="M410.5 784.6L416 794.3L405 794.3Z" fill="#111111"/>
<path d="M426.3 775.6L431.8 785.3L420.8 785.3Z" fill="#111111"/>
<path d="M442.1 769L447.6 778.7L436.6 778.7Z" fill="#111111"/>
<path d="M457.9 764.5L463.4 774.2L452.3 774.2Z" fill="#111111"/>
<path d="M473.6 762.4L479.1 772.1L468.1 772.1Z" fill="#111111"/>
<path d="M489.4 762.1L494.9 771.9L483.9 771.9Z" fill="#111111"/>
<path d="M505.2 764L510.7 773.7L499.7 773.7Z" fill="#111111"/>
<path d="M521 766L526.5 775.7L515.5 775.7Z" fill="#111111"/>
<path d="M536.7 771.9L542.3 781.6L531.2 781.6Z" fill="#111111"/>
<path d="M552.5 779.3L558 789L547 789Z" fill="#111111"/>
<path d="M568.3 787.8L573.8 797.6L562.8 797.6Z" fill="#111111"/>
<path d="M584.1 800.2L589.6 810L578.6 810Z" fill="#111111"/>
<path d="M599.8 817.8L605.4 827.5L594.3 827.5Z" fill="#111111"/>
<path d="M615.6 831.5L621.1 841.2L610.1 841.2Z" fill="#111111"/>
<path d="M631.4 854.8L636.9 864.5L625.9 864.5Z" fill="#111111"/>
<path d="M647.2 878.5L652.7 888.2L641.7 888.2Z" fill="#111111"/>
<rect x="168.9" y="1140.5" width="10" height="10" fill="#ee1212"/>
<rect x="176.8" y="1119.6" width="10" height="10" fill="#ee1212"/>
<rect x="184.7" y="1099.7" width="10" height="10" fill="#ee1212"/>
<rect x="200.4" y="1060" width="10" height="10" fill="#ee1212"/>
<rect x="216.2" y="1025.4" width="10" height="10" fill="#ee1212"/>
<rect x="232" y="993.5" width="10" height="10" fill="#ee1212"/>
<rect x="247.8" y="964.4" width="10" height="10" fill="#ee1212"/>
<rect x="263.5" y="939.2" width="10" height="10" fill="#ee1212"/>
<rect x="279.3" y="910.4" width="10" height="10" fill="#ee1212"/>
<rect x="295.1" y="884.8" width="10" height="10" fill="#ee1212"/>
<rect x="310.9" y="864.3" width="10" height="10" fill="#ee1212"/>
<rect x="326.6" y="846.5" width="10" height="10" fill="#ee1212"/>
<rect x="342.4" y="828.4" width="10" height="10" fill="#ee1212"/>
<rect x="358.2" y="812.6" width="10" height="10" fill="#ee1212"/>
<rect x="374" y="798.9" width="10" height="10" fill="#ee1212"/>
<rect x="389.8" y="785.5" width="10" height="10" fill="#ee1212"/>
<rect x="405.5" y="775.7" width="10" height="10" fill="#ee1212"/>
<rect x="421.3" y="765.7" width="10" height="10" fill="#ee1212"/>
<rect x="437.1" y="758" width="10" height="10" fill="#ee1212"/>
<rect x="452.9" y="752.4" width="10" height="10" fill="#ee1212"/>
<rect x="468.6" y="749.2" width="10" height="10" fill="#ee1212"/>
<rect x="484.4" y="747.7" width="10" height="10" fill="#ee1212"/>
<rect x="500.2" y="747.5" width="10" height="10" fill="#ee1212"/>
<rect x="516" y="747.4" width="10" height="10" fill="#ee1212"/>
<rect x="531.7" y="751" width="10" height="10" fill="#ee1212"/>
<rect x="547.5" y="755.9" width="10" height="10" fill="#ee1212"/>
<rect x="563.3" y="761.9" width="10" height="10" fill="#ee1212"/>
<rect x="579.1" y="771.6" width="10" height="10" fill="#ee1212"/>
<rect x="594.8" y="782.6" width="10" height="10" fill="#ee1212"/>
<rect x="610.6" y="789.4" width="10" height="10" fill="#ee1212"/>
<rect x="626.4" y="805.2" width="10" height="10" fill="#ee1212"/>
<rect x="642.2" y="821.2" width="10" height="10" fill="#ee1212"/>
<rect x="658" y="835.3" width="10" height="10" fill="#ee1212"/>
<rect x="673.7" y="857.7" width="10" height="10" fill="#ee1212"/>
<rect x="689.5" y="881" width="10" height="10" fill="#ee1212"/>
<circle cx="173.9" cy="1145.5" r="5.4" fill="#18ec18"/>
<circle cx="181.8" cy="1124.1" r="5.4" fill="#18ec18"/>
<circle cx="189.7" cy="1103.8" r="5.4" fill="#18ec18"/>
<circle cx="205.4" cy="1065.6" r="5.4" fill="#18ec18"/>
<circle cx="221.2" cy="1031.3" r="5.4" fill="#18ec18"/>
<circle cx="237" cy="999.8" r="5.4" fill="#18ec18"/>
<circle cx="252.8" cy="970.9" r="5.4" fill="#18ec18"/>
<circle cx="268.5" cy="946" r="5.4" fill="#18ec18"/>
<circle cx="284.3" cy="919.1" r="5.4" fill="#18ec18"/>
<circle cx="300.1" cy="897.7" r="5.4" fill="#18ec18"/>
<circle cx="315.9" cy="878.2" r="5.4" fill="#18ec18"/>
<circle cx="331.6" cy="861.4" r="5.4" fill="#18ec18"/>
<circle cx="347.4" cy="844.9" r="5.4" fill="#18ec18"/>
<circle cx="363.2" cy="830.9" r="5.4" fill="#18ec18"/>
<circle cx="379" cy="819.1" r="5.4" fill="#18ec18"/>
<circle cx="394.8" cy="807.8" r="5.4" fill="#18ec18"/>
<circle cx="410.5" cy="800" r="5.4" fill="#18ec18"/>
<circle cx="426.3" cy="792.3" r="5.4" fill="#18ec18"/>
<circle cx="442.1" cy="787" r="5.4" fill="#18ec18"/>
<circle cx="457.9" cy="783.9" r="5.4" fill="#18ec18"/>
<circle cx="473.6" cy="783.3" r="5.4" fill="#18ec18"/>
<circle cx="489.4" cy="784.6" r="5.4" fill="#18ec18"/>
<circle cx="505.2" cy="787.5" r="5.4" fill="#18ec18"/>
<circle cx="521" cy="790.4" r="5.4" fill="#18ec18"/>
<circle cx="536.7" cy="797.4" r="5.4" fill="#18ec18"/>
<circle cx="552.5" cy="805.7" r="5.4" fill="#18ec18"/>
<circle cx="568.3" cy="815.3" r="5.4" fill="#18ec18"/>
<circle cx="584.1" cy="828.7" r="5.4" fill="#18ec18"/>
<circle cx="599.8" cy="843.6" r="5.4" fill="#18ec18"/>
<circle cx="615.6" cy="854.3" r="5.4" fill="#18ec18"/>
<circle cx="631.4" cy="874.3" r="5.4" fill="#18ec18"/>
<circle cx="647.2" cy="894.5" r="5.4" fill="#18ec18"/>
<text class="tl" transform="translate(82.5,1154.5) scale(1.19,1)" font-size="22" text-anchor="end" dominant-baseline="central">0,1</text>
<text class="tl" transform="translate(82.5,1092.9) scale(1.19,1)" font-size="22" text-anchor="end" dominant-baseline="central">0,2</text>
<text class="tl" transform="translate(82.5,1031.2) scale(1.19,1)" font-size="22" text-anchor="end" dominant-baseline="central">0,3</text>
<text class="tl" transform="translate(82.5,969.6) scale(1.19,1)" font-size="22" text-anchor="end" dominant-baseline="central">0,4</text>
<text class="tl" transform="translate(82.5,908) scale(1.19,1)" font-size="22" text-anchor="end" dominant-baseline="central">0,5</text>
<text class="tl" transform="translate(82.5,846.4) scale(1.19,1)" font-size="22" text-anchor="end" dominant-baseline="central">0,6</text>
<text class="tl" transform="translate(82.5,784.7) scale(1.19,1)" font-size="22" text-anchor="end" dominant-baseline="central">0,7</text>
<text class="tl" transform="translate(82.5,723.1) scale(1.19,1)" font-size="22" text-anchor="end" dominant-baseline="central">0,8</text>
<text class="tl" transform="translate(173.9,1208) scale(1.19,1)" font-size="22" text-anchor="middle" dominant-baseline="central">0,00</text>
<text class="tl" transform="translate(292.2,1208) scale(1.19,1)" font-size="22" text-anchor="middle" dominant-baseline="central">0,15</text>
<text class="tl" transform="translate(410.5,1208) scale(1.19,1)" font-size="22" text-anchor="middle" dominant-baseline="central">0,30</text>
<text class="tl" transform="translate(528.9,1208) scale(1.19,1)" font-size="22" text-anchor="middle" dominant-baseline="central">0,45</text>
<text class="tl" transform="translate(647.2,1208) scale(1.19,1)" font-size="22" text-anchor="middle" dominant-baseline="central">0,60</text>
<text class="tl" transform="translate(765.5,1208) scale(1.19,1)" font-size="22" text-anchor="middle" dominant-baseline="central">0,75</text>
<text class="tl" transform="translate(775,1145.5) scale(1.19,1)" font-size="22" text-anchor="start" dominant-baseline="central">0</text>
<text class="tl" transform="translate(775,1069.6) scale(1.19,1)" font-size="22" text-anchor="start" dominant-baseline="central">20</text>
<text class="tl" transform="translate(775,993.7) scale(1.19,1)" font-size="22" text-anchor="start" dominant-baseline="central">40</text>
<text class="tl" transform="translate(775,917.8) scale(1.19,1)" font-size="22" text-anchor="start" dominant-baseline="central">60</text>
<text class="tl" transform="translate(775,841.9) scale(1.19,1)" font-size="22" text-anchor="start" dominant-baseline="central">80</text>
<text class="tl" transform="translate(775,765.9) scale(1.19,1)" font-size="22" text-anchor="start" dominant-baseline="central">100</text>
<text class="tl" transform="translate(775,690) scale(1.19,1)" font-size="22" text-anchor="start" dominant-baseline="central">120</text>
<rect x="133" y="661" width="249" height="96.5" fill="#f9f9f9" stroke="none"/>
<path d="M133 661 V757.5 H382 V661" fill="none" stroke="#444" stroke-width="1.6"/>
<line x1="144" y1="682" x2="198.6" y2="682" stroke="#ee1212" stroke-width="1.5"/>
<rect x="165.8" y="676.5" width="11" height="11" fill="#ee1212"/>
<text class="lg" transform="translate(206,683) scale(1.1,1)" font-size="22" text-anchor="start" dominant-baseline="central">PtRu-SWCNT2</text>
<line x1="144" y1="711" x2="198.6" y2="711" stroke="#663333" stroke-width="1.5" stroke-dasharray="3,1.5"/>
<path d="M171.3 704.345L177.6525 715.5375L164.94750000000002 715.5375Z" fill="#111111"/>
<text class="lg" transform="translate(206,712) scale(1.1,1)" font-size="22" text-anchor="start" dominant-baseline="central">PtRu-SWCNT3</text>
<line x1="144" y1="741.4" x2="198.6" y2="741.4" stroke="#55ee55" stroke-width="1.5" stroke-dasharray="3,1.5"/>
<circle cx="171.3" cy="741.4" r="6.0" fill="#18ec18"/>
<text class="lg" transform="translate(206,742.4) scale(1.1,1)" font-size="22" text-anchor="start" dominant-baseline="central">PtRu-Vulcan</text>
<line x1="115.8" y1="897" x2="160.4" y2="897" stroke="#222" stroke-width="1.8" stroke-dasharray="3,1.5"/>
<path d="M107.8 897L118.8 893.8L118.8 900.2Z" fill="#111"/>
<line x1="673.2" y1="819.5" x2="724.2" y2="819.5" stroke="#222" stroke-width="1.8" stroke-dasharray="3,1.5"/>
<path d="M732.2 819.5L721.2 816.3L721.2 822.7Z" fill="#111"/>
<text class="b" font-size="30" transform="translate(21,289.5) rotate(-90)" text-anchor="middle">U / V</text>
<text class="b" font-size="30" transform="translate(21.5,958.5) rotate(-90)" text-anchor="middle">U / V</text>
<text class="b" font-size="29.5" transform="translate(845,211) rotate(90)">P / mW cm<tspan font-size="17" dy="-13">-2</tspan></text>
<text class="b" font-size="29.5" transform="translate(845,879) rotate(90)">P / mW cm<tspan font-size="17" dy="-13">-2</tspan></text>
<text class="b" font-size="27.5" transform="translate(373,609.5) scale(1.08,1)">j / A cm<tspan font-size="13" dx="3" dy="-15">-2</tspan></text>
<text class="b" font-size="27.5" transform="translate(369,1273) scale(1.08,1)">j / A cm<tspan font-size="13" dx="3" dy="-15">-2</tspan></text>
<text class="serif" font-size="31" x="-1" y="611">(a)</text>
<text class="serif" font-size="31" x="-1" y="1277">(b)</text>
</g></svg></body></html>
